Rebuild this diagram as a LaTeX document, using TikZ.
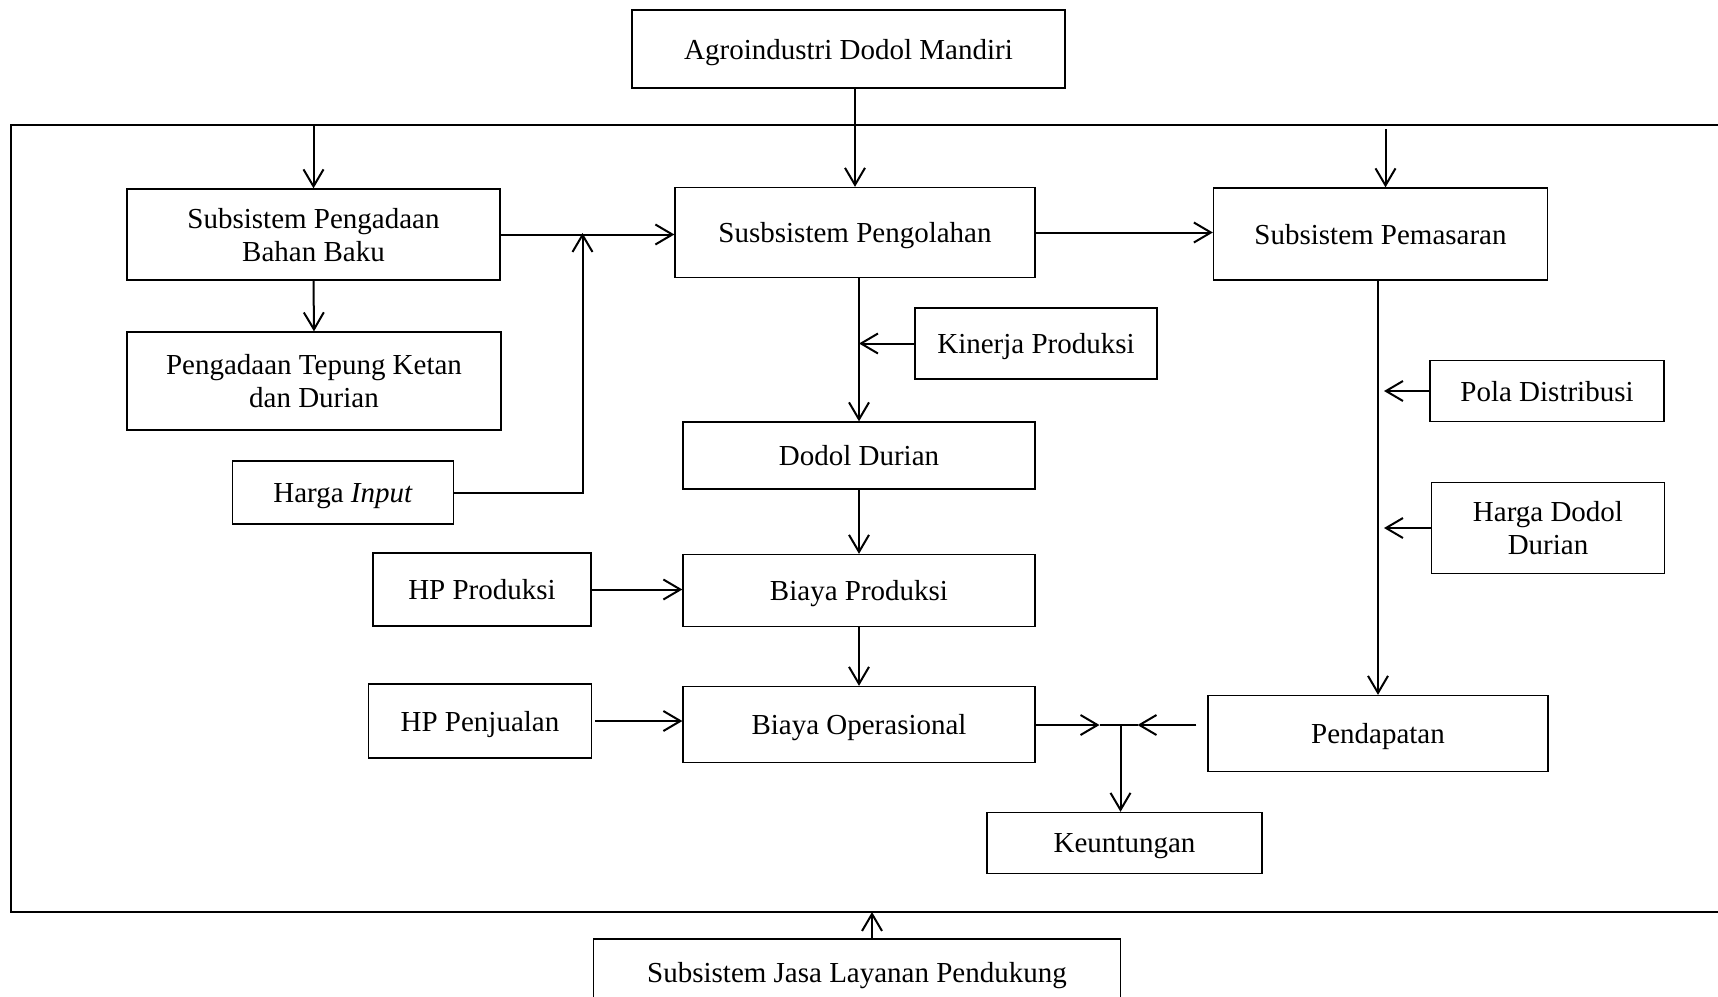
\documentclass[tikz,border=0pt]{standalone}
\usepackage{fontspec}
\setmainfont{Liberation Serif}
\usetikzlibrary{arrows.meta}

\begin{document}
\begin{tikzpicture}[x=1pt,y=-1pt,
    box/.style={draw,line width=1.3pt,align=center,inner sep=0pt,text depth=0pt,font=\fontsize{29}{33}\selectfont},
    arr/.style={line width=2pt,-{Straight Barb[length=17pt,width=20pt]}}]
    \useasboundingbox (0,0) rectangle (1718,996);
    \clip (0,0) rectangle (1718,996);
    \draw[line width=2pt] (1730,125) -- (11,125) -- (11,912) -- (1730,912);
    \coordinate (ftop) at (0,125);
    \coordinate (fbot) at (0,912);
    \node[box,minimum width=433,minimum height=78] (agro) at (848.5,49) {Agroindustri Dodol Mandiri};
    \node[box,minimum width=373,minimum height=91] (pengadaan) at (313.5,234.5) {Subsistem Pengadaan\\Bahan Baku};
    \node[box,minimum width=374,minimum height=98] (tepung) at (314,381) {Pengadaan Tepung Ketan\\dan Durian};
    \node[box,minimum width=221,minimum height=63] (hinput) at (343,492.5) {Harga \textit{Input}};
    \node[box,minimum width=360,minimum height=90] (olah) at (855,232.5) {Susbsistem Pengolahan};
    \node[box,minimum width=334,minimum height=92] (pasar) at (1380.5,234) {Subsistem Pemasaran};
    \node[box,minimum width=242,minimum height=71] (kinerja) at (1036,343.5) {Kinerja Produksi};
    \node[box,minimum width=352,minimum height=67] (dodol) at (859,455.5) {Dodol Durian};
    \node[box,minimum width=234,minimum height=61] (pola) at (1547,391) {Pola Distribusi};
    \node[box,minimum width=233,minimum height=91] (hdodol) at (1548,528) {Harga Dodol\\Durian};
    \node[box,minimum width=218,minimum height=73] (hpprod) at (482,589.5) {HP Produksi};
    \node[box,minimum width=352,minimum height=72] (bprod) at (859,590.5) {Biaya Produksi};
    \node[box,minimum width=223,minimum height=74] (hpjual) at (480,721) {HP Penjualan};
    \node[box,minimum width=352,minimum height=76] (bop) at (859,724.5) {Biaya Operasional};
    \node[box,minimum width=340,minimum height=76] (pendapatan) at (1378,733.5) {Pendapatan};
    \node[box,minimum width=275,minimum height=61] (untung) at (1124.5,843) {Keuntungan};
    \node[box,minimum width=527,minimum height=66] (jasa) at (857,972) {Subsistem Jasa Layanan Pendukung};
    \coordinate (jin) at (582.5,233);
    \coordinate (jsum) at (1120.5,725);
    % masuk dari bingkai dan dari atas
    \draw[arr] (pengadaan.north |- ftop) -- (pengadaan.north);
    \draw[arr] (olah.north |- agro.south) -- (olah.north);
    \draw[arr,shorten <=4pt] ([xshift=5pt]pasar.north |- ftop) -- ([xshift=5pt]pasar.north);
    \draw[arr] (pengadaan.south) -- (tepung.north);
    \draw[arr] (pengadaan.east) -- (pengadaan.east -| olah.west);
    \draw[arr] (hinput.east) -| (jin);
    \draw[arr] (olah.east) -- (olah.east -| pasar.west);
    % jalur produksi
    \draw[arr] (dodol.north |- olah.south) -- (dodol.north);
    \draw[arr] (kinerja.west) -- (kinerja.west -| dodol.north);
    \draw[arr] (dodol.south) -- (bprod.north);
    \draw[arr] (bprod.south) -- (bop.north);
    \draw[arr] (hpprod.east) -- (hpprod.east -| bprod.west);
    \draw[arr,shorten <=3pt] (hpjual.east) -- (hpjual.east -| bop.west);
    % jalur pemasaran
    \draw[arr] (pendapatan.north |- pasar.south) -- (pendapatan.north);
    \draw[arr,shorten >=6pt] (pola.west) -- (pola.west -| pendapatan.north);
    \draw[arr,shorten >=6pt] (hdodol.west) -- (hdodol.west -| pendapatan.north);
    % keuntungan
    \draw[arr,shorten >=21pt] (bop.east |- jsum) -- (jsum);
    \draw[arr,shorten <=11pt,shorten >=17pt] (pendapatan.west |- jsum) -- (jsum);
    \draw[line width=2pt] ([xshift=-21pt]jsum) -- ([xshift=17pt]jsum);
    \draw[arr] (jsum) -- (jsum |- untung.north);
    \draw[arr] ([xshift=15pt]jasa.north) -- ([xshift=15pt]jasa.north |- fbot);
\end{tikzpicture}
\end{document}
